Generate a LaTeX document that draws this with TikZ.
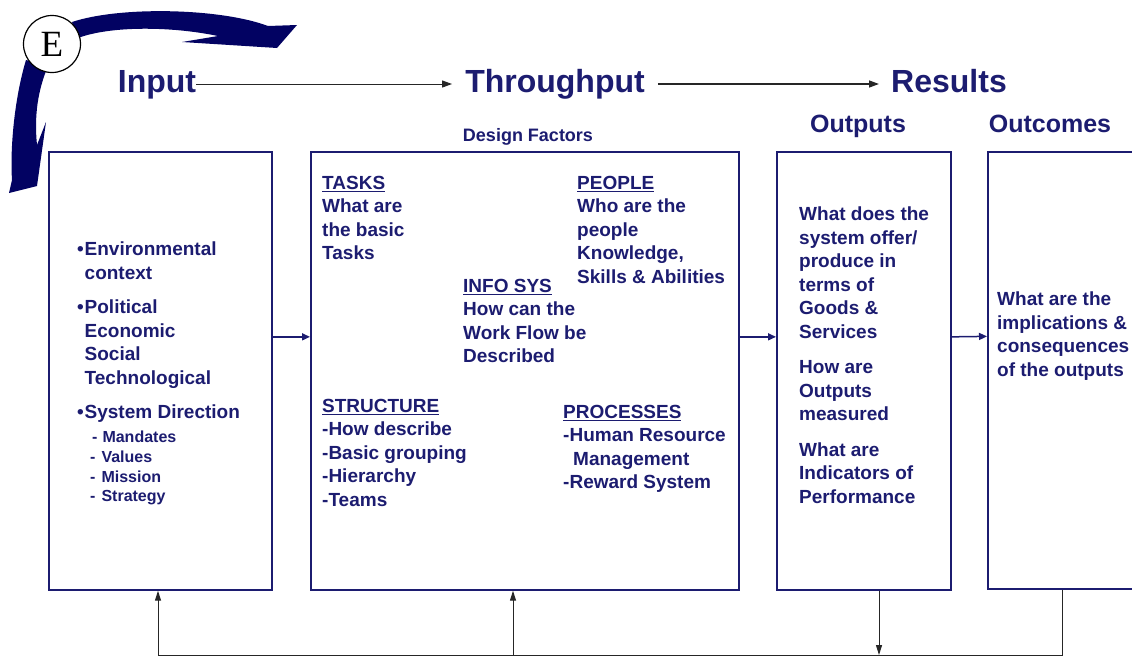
\documentclass[tikz,border=0pt]{standalone}
\usepackage{fontspec}
\setmainfont{Liberation Sans}
\newfontfamily\serifE{Liberation Serif}
\usetikzlibrary{arrows.meta}
\definecolor{navy}{RGB}{28,28,112}
\definecolor{swoosh}{RGB}{2,2,98}
\newcommand{\bul}{\makebox[6.5pt][l]{\hspace*{-1pt}\fontsize{19}{19}\selectfont•}}
\newcommand{\ind}{\hspace*{6.5pt}}
\begin{document}
\begin{tikzpicture}[x=1pt, y=-1pt,
  box/.style={draw=navy, line width=1.7pt, anchor=north west, inner sep=0pt},
  txt/.style={anchor=north west, align=left, inner sep=0pt, text=navy, font=\bfseries\fontsize{19}{23.5}\selectfont},
  title/.style={anchor=base, inner sep=0pt, text=navy, font=\bfseries\fontsize{32}{36}\selectfont},
  head/.style={anchor=base, inner sep=0pt, text=navy, font=\bfseries\fontsize{25}{30}\selectfont},
  flow/.style={navy, line width=1.5pt, -{Triangle[length=8pt, width=7pt]}},
  back/.style={black!85, line width=1pt, -{Triangle[length=10pt, width=6pt]}}]
\useasboundingbox (0,0) rectangle (1132,656);
% environment swoosh
\fill[swoosh] (72,22) .. controls (120,6) and (220,8) .. (268,26) -- (297,25) -- (277,48) -- (182,42) -- (218,36) .. controls (170,26) and (110,26) .. (78,38) -- cycle;
\fill[swoosh] (26,60) .. controls (14,100) and (10,150) .. (12,180) -- (9,193) -- (37,186) -- (46,122) -- (37,145) .. controls (34,115) and (38,90) .. (48,66) -- cycle;
\node[circle, draw=black, line width=1.2pt, fill=white, minimum size=57pt, inner sep=0pt, font=\serifE\fontsize{37}{37}\selectfont] (env) at (52,44) {E};
% titles
\node[title] (input) at (157,92) {Input};
\node[title] (thru) at (555,92) {Throughput};
\node[title] (results) at (949,92) {Results};
\draw[black!85, line width=1pt, -{Triangle[length=10pt, width=7pt]}] ([yshift=8pt]input.base east) -- ([yshift=8pt, xshift=-13pt]thru.base west);
\draw[black!85, line width=1.3pt, -{Triangle[length=10pt, width=7pt]}] ([yshift=8pt, xshift=13pt]thru.base east) -- ([yshift=8pt, xshift=-12pt]results.base west);
\node[anchor=base, inner sep=0pt, text=navy, font=\bfseries\fontsize{18}{22}\selectfont] (design) at (528,141) {Design Factors};
\node[head] (outputs) at (858,132) {Outputs};
\node[head] (outcomes) at (1050,132) {Outcomes};
% boxes
\node[box, minimum width=223pt, minimum height=438pt] (inbox) at (48,151) {};
\node[box, minimum width=428pt, minimum height=438pt] (thrubox) at (310,151) {};
\node[box, minimum width=174pt, minimum height=438pt] (outbox) at (776,151) {};
\node[box, minimum width=180pt, minimum height=437pt] (outcbox) at (987,151) {};
\draw[flow] ([yshift=34pt]inbox.east) -- ([yshift=34pt]thrubox.west);
\draw[flow] ([yshift=34pt]thrubox.east) -- ([yshift=34pt]outbox.west);
\draw[flow] ([yshift=34pt]outbox.east) -- ([yshift=34pt]outcbox.west);
% input box
\node[txt] (envtxt) at (78,242) {\bul Environmental\\ \ind context\\[11pt] \bul Political\\ \ind Economic\\ \ind Social\\ \ind Technological\\[11pt] \bul System Direction};
\node[txt, font=\bfseries\fontsize{16}{19.7}\selectfont] (dirtxt) at (90,431) {\hspace*{2pt}-\hspace*{5pt}Mandates\\ -\hspace*{6pt}Values\\ -\hspace*{6pt}Mission\\ -\hspace*{6pt}Strategy};
% throughput box
\node[txt] (tasks) at (322,176) {\underline{TASKS}\\ What are\\ the basic\\ Tasks};
\node[txt] (people) at (577,176) {\underline{PEOPLE}\\ Who are the\\ people\\ Knowledge,\\ Skills \& Abilities};
\node[txt] (infosys) at (463,279) {\underline{INFO SYS}\\ How can the\\ Work Flow be\\ Described};
\node[txt] (structure) at (322,399) {\underline{STRUCTURE}\\ -How describe\\ -Basic grouping\\ -Hierarchy\\ -Teams};
\node[txt] (processes) at (563,405) {\underline{PROCESSES}\\ -Human Resource\\ \hspace*{10pt}Management\\ -Reward System};
% output box
\node[txt] (offer) at (799,207) {What does the\\ system offer/\\ produce in\\ terms of\\ Goods \&\\ Services\\[12pt] How are\\ Outputs\\ measured\\[12pt] What are\\ Indicators of\\ Performance};
% outcome box
\node[txt] (implic) at (997,292) {What are the\\ implications \&\\ consequences\\ of the outputs};
% feedback
\coordinate (c1) at (158,655);
\coordinate (c2) at (513,655);
\coordinate (c3) at (879,655);
\coordinate (c4) at (1062,655);
\draw[back] (c4 |- outcbox.south) -- (c4) -- (c1) -- (c1 |- inbox.south);
\draw[back] (c2) -- (c2 |- thrubox.south);
\draw[back] (c3 |- outbox.south) -- (c3);
\end{tikzpicture}
\end{document}
